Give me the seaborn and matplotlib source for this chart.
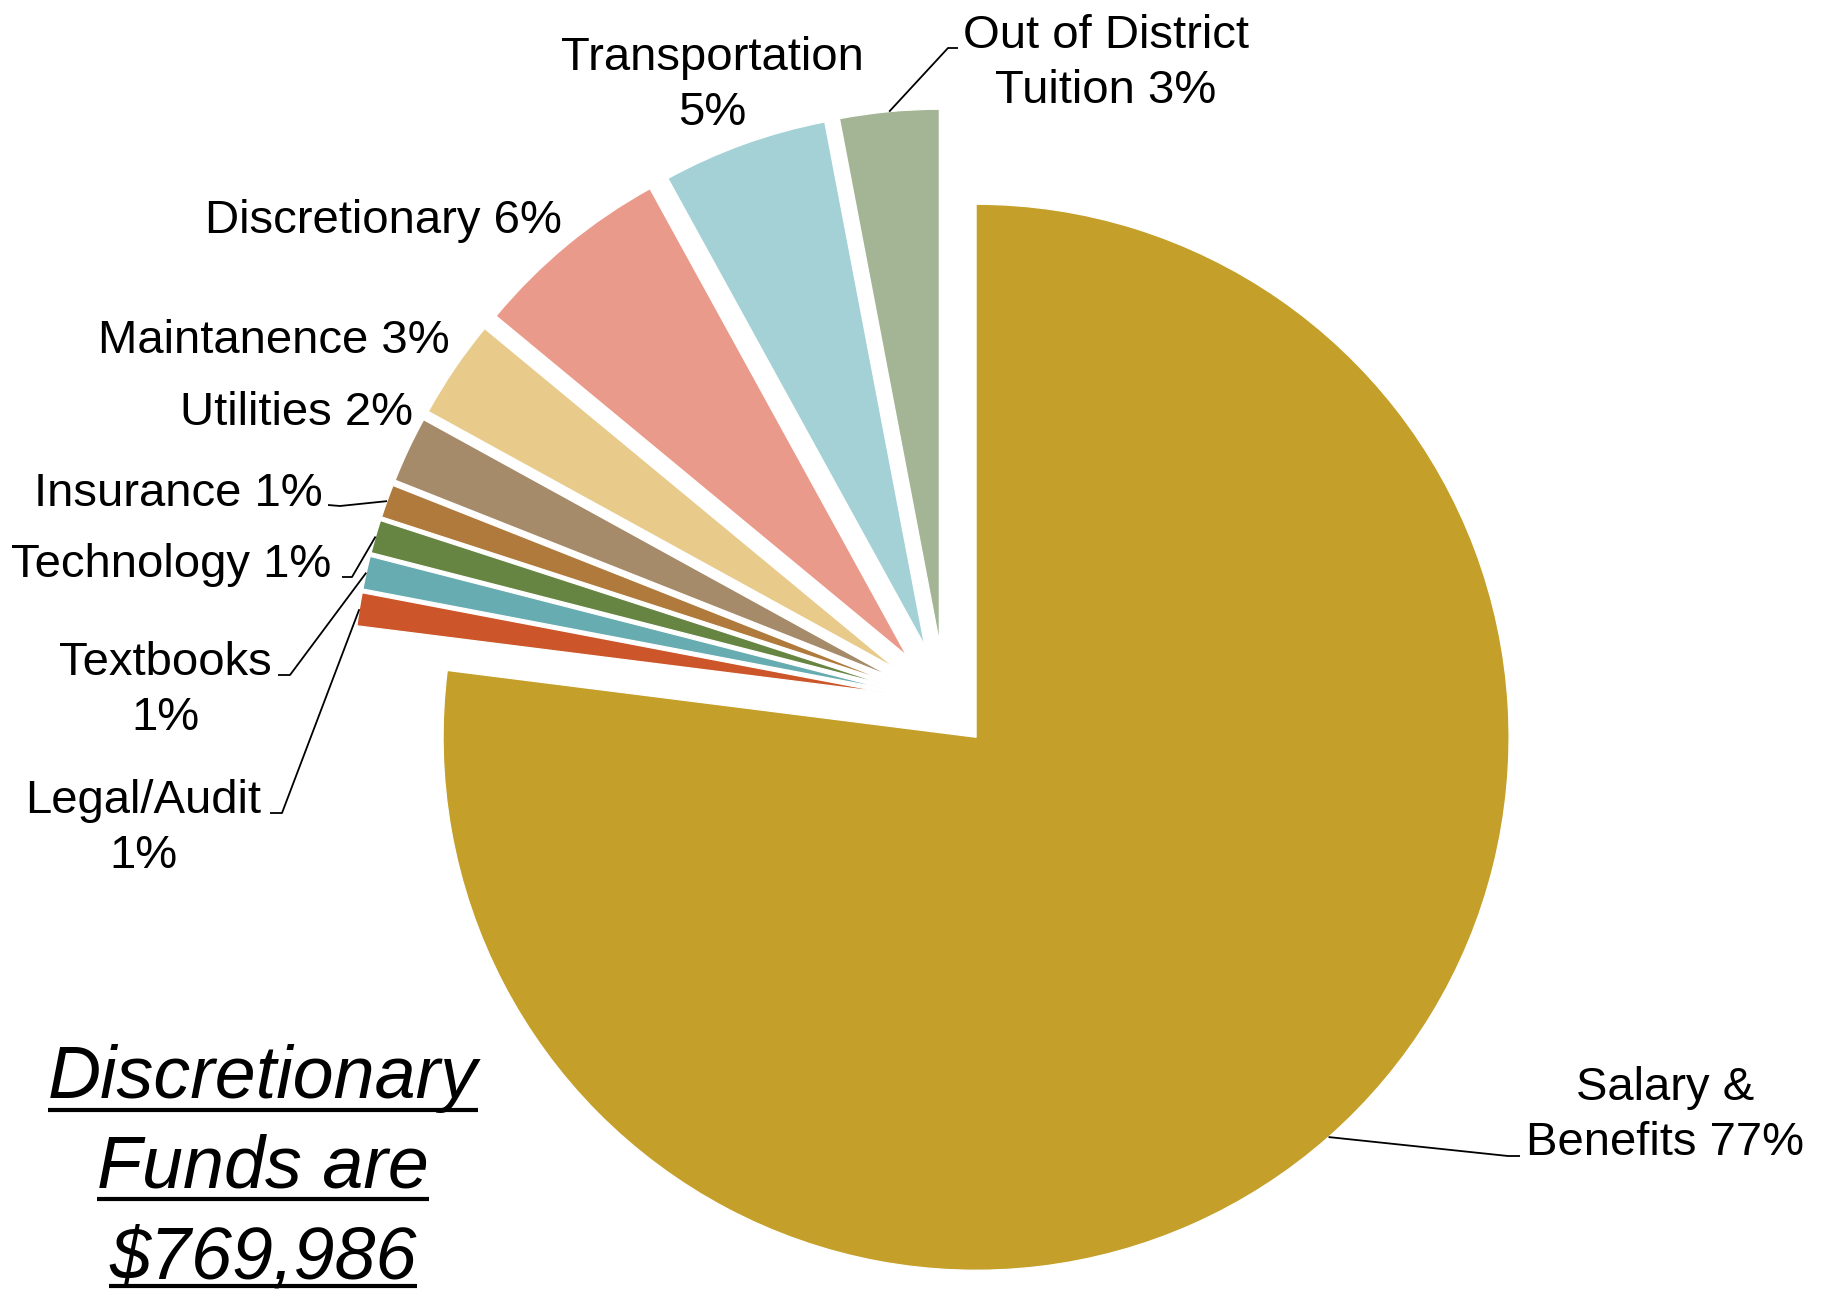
import math

import matplotlib
matplotlib.use("Agg")
import matplotlib.pyplot as plt
import seaborn as sns

# Budget shares, listed clockwise from 12 o'clock
categories = ["Salary & Benefits", "Legal/Audit", "Textbooks", "Technology", "Insurance",
              "Utilities", "Maintanence", "Discretionary", "Transportation",
              "Out of District Tuition"]
shares = [77, 1, 1, 1, 1, 2, 3, 6, 5, 3]
label_templates = ["Salary &\nBenefits {}%", "Legal/Audit\n{}%", "Textbooks\n{}%",
                   "Technology {}%", "Insurance {}%", "Utilities {}%", "Maintanence {}%",
                   "Discretionary {}%", "Transportation\n{}%", "Out of District\nTuition {}%"]
slice_colors = ["#C4A02A", "#CC5629", "#67ACB1", "#678542", "#B07A3C",
                "#A68B6A", "#E8CB8A", "#EA9A8A", "#A4D1D6", "#A4B595"]
headline = ["Discretionary", "Funds are", "$769,986"]

W, H = 1826, 1290

sns.set_theme(style="white")
plt.rcParams["font.family"] = ["Liberation Sans", "DejaVu Sans"]

fig = plt.figure(figsize=(W / 100, H / 100), dpi=100)
ax = fig.add_axes([0, 0, 1, 1])


def yd(y_top):
    """Convert a top-down pixel row into the axes' upward y coordinate."""
    return H - y_top


center = (945, yd(702))
radius = 533
explode = [47] + [60] * (len(shares) - 1)

palette = sns.color_palette(slice_colors)
wedges, _ = ax.pie(shares, colors=palette, startangle=90, counterclock=False,
                   explode=explode, center=center, radius=radius,
                   wedgeprops=dict(edgecolor="white", linewidth=0.9,
                                   joinstyle="bevel"))
ax.set_xlim(0, W)
ax.set_ylim(0, H)
ax.set_aspect("auto")
ax.axis("off")

# label placement: centre x, first baseline (top-down px), line step
label_pos = [(1665, 1100), (143, 813), (165, 675), (171, 577), (178, 506),
             (296, 425), (274, 353), (383, 233), (712, 70), (1106, 48)]
line_step = 55
# leader lines: (elbow, end at text) in top-down px, None where unused
leaders = [((1508, 1156), (1520, 1156)), ((282, 813), (270, 813)),
           ((290, 675), (278, 675)), ((352, 577), (342, 577)),
           ((340, 506), (328, 505)), None, None, None, None,
           ((948, 48), (958, 48))]

for w, share, tmpl, (lx, ly), lead in zip(wedges, shares, label_templates,
                                          label_pos, leaders):
    for i, line in enumerate(tmpl.format(share).split("\n")):
        ax.text(lx, yd(ly + i * line_step), line, ha="center", va="baseline",
                fontsize=34, color="black")
    if lead is not None:
        mid = math.radians((w.theta1 + w.theta2) / 2)
        cx, cy = w.center
        ax0 = cx + w.r * math.cos(mid)
        ay0 = cy + w.r * math.sin(mid)
        (ex, ey), (tx, ty) = lead
        ax.plot([ax0, ex, tx], [ay0, yd(ey), yd(ty)], color="black",
                linewidth=1.3, solid_capstyle="butt")

# underlined italic headline
head_base = [1098, 1188, 1278]
under_off = [12, 11, 8]
texts = []
for line, yb in zip(headline, head_base):
    texts.append(ax.text(263, yd(yb), line, ha="center", va="baseline",
                         fontsize=53, style="italic", color="black"))
fig.canvas.draw()
inv = ax.transData.inverted()
for t, yb, off in zip(texts, head_base, under_off):
    bb = t.get_window_extent()
    (x0, _), (x1, _) = inv.transform([(bb.x0, bb.y0), (bb.x1, bb.y1)])
    ax.plot([x0, x1], [yd(yb + off), yd(yb + off)], color="black",
            linewidth=3.0, solid_capstyle="butt")

fig.savefig("out.png", dpi=100, facecolor="white")
